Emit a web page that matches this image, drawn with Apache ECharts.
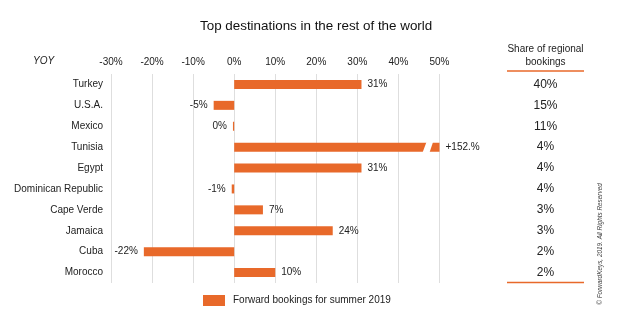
<!DOCTYPE html>
<html>
<head>
<meta charset="utf-8">
<script src="https://cdn.jsdelivr.net/npm/echarts@6/dist/echarts.min.js"></script>
<style>
  html, body { margin: 0; padding: 0; background: #fff; }
  #chart { width: 625px; height: 322px; }
</style>
</head>
<body>
<div id="chart"></div>
<script>
// Destinations, top to bottom
const destinations = ['Turkey', 'U.S.A.', 'Mexico', 'Tunisia', 'Egypt',
  'Dominican Republic', 'Cape Verde', 'Jamaica', 'Cuba', 'Morocco'];
// Year-over-year change in forward bookings (%)
const yoyChange = [31, -5, -0.3, 152, 31, -0.6, 7, 24, -22, 10];
// Share of regional bookings (right-hand column)
const regionalShare = ['40%', '15%', '11%', '4%', '4%', '4%', '3%', '3%', '2%', '2%'];
// Axis ticks (%)
const axisMin = -30, axisMax = 50, axisStep = 10;

const ORANGE = '#E8692A';
const TEXT = '#222';
const FONT = '"Liberation Sans", Arial, sans-serif';

const chart = echarts.init(document.getElementById('chart'));

// bars that run past the axis end get a slanted break near the end
const breakData = [];
yoyChange.forEach((v, i) => { if (v > axisMax) breakData.push([axisMax, i]); });

function fmtLabel(v) {
  if (v > axisMax) return '+' + v + '.%';
  const r = Math.round(v);
  return (r === 0 ? 0 : r) + '%';
}

// value labels sit outside the bar end: left for declines, right for growth
const barData = yoyChange.map(v => ({
  value: v,
  label: { position: v < 0 ? 'left' : 'right' }
}));

chart.setOption({
  animation: false,
  textStyle: { fontFamily: FONT },
  title: {
    text: 'Top destinations in the rest of the world',
    left: 200, top: 20, padding: 0,
    textStyle: { fontSize: 13.4, fontWeight: 'normal', color: '#111', fontFamily: FONT }
  },
  grid: { left: 111, right: 185.5, top: 74, bottom: 39, containLabel: false },
  xAxis: {
    type: 'value', position: 'top',
    min: axisMin, max: axisMax, interval: axisStep,
    axisLine: { show: false }, axisTick: { show: false },
    splitLine: { show: true, lineStyle: { color: '#dedede', width: 1 } },
    axisLabel: { formatter: '{value}%', fontSize: 10, color: TEXT, margin: 7, fontFamily: FONT }
  },
  yAxis: [{
    type: 'category', data: destinations, inverse: true,
    axisLine: { show: false }, axisTick: { show: false },
    axisLabel: { fontSize: 10, color: TEXT, margin: 8, fontFamily: FONT }
  }, {
    type: 'category', data: regionalShare, inverse: true, position: 'right',
    axisLine: { show: false }, axisTick: { show: false }, splitLine: { show: false },
    axisLabel: { fontSize: 12, color: TEXT, margin: 106, align: 'center', fontFamily: FONT }
  }],
  legend: {
    left: 203, top: 295, padding: 0,
    icon: 'rect', itemWidth: 22, itemHeight: 11, itemGap: 10,
    textStyle: { fontSize: 10, color: TEXT, fontFamily: FONT, padding: [0, 0, 0, 3] },
    data: ['Forward bookings for summer 2019']
  },
  series: [{
    name: 'Forward bookings for summer 2019',
    type: 'bar', yAxisIndex: 0,
    data: barData, barWidth: 9, clip: true,
    itemStyle: { color: ORANGE },
    label: {
      show: true, distance: 6,
      fontSize: 10, color: TEXT, fontFamily: FONT,
      formatter: p => fmtLabel(p.value)
    }
  }, {
    type: 'custom', yAxisIndex: 0, z: 5, silent: true,
    data: breakData,
    renderItem: function (params, api) {
      const cat = api.value(1);
      const c = api.coord([0, cat]);
      const h = 9;
      const yTop = c[1] - h / 2 - 1, yBot = c[1] + h / 2 + 1;
      const x = v => api.coord([v, cat])[0];
      return {
        type: 'polygon',
        shape: { points: [[x(46.85), yTop], [x(48.45), yTop], [x(47.55), yBot], [x(45.85), yBot]] },
        style: { fill: '#fff' }
      };
    }
  }],
  graphic: [
    { type: 'text', left: 33, top: 56, style: { text: 'YOY', font: 'italic 10px ' + FONT, fill: TEXT } },
    { type: 'text', x: 545.5, y: 49, style: { text: 'Share of regional', font: '10px ' + FONT, fill: TEXT, align: 'center', verticalAlign: 'middle' } },
    { type: 'text', x: 545.5, y: 62, style: { text: 'bookings', font: '10px ' + FONT, fill: TEXT, align: 'center', verticalAlign: 'middle' } },
    { type: 'line', shape: { x1: 507, y1: 71, x2: 584, y2: 71 }, style: { stroke: ORANGE, lineWidth: 1.3 } },
    { type: 'line', shape: { x1: 507, y1: 282.5, x2: 584, y2: 282.5 }, style: { stroke: ORANGE, lineWidth: 1.3 } },
    { type: 'text', x: 600, y: 244, rotation: Math.PI / 2,
      style: { text: '\u00A9 ForwardKeys, 2019. All Rights Reserved', font: 'italic 6.4px ' + FONT, fill: '#444', align: 'center', verticalAlign: 'middle' } }
  ]
});
</script>
</body>
</html>
